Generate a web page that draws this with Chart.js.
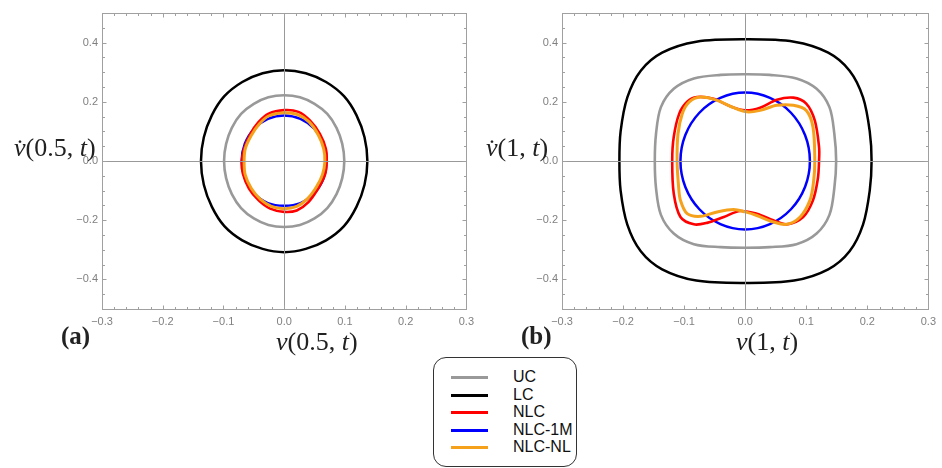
<!DOCTYPE html>
<html lang="en">
<head>
  <meta charset="UTF-8">
  <title>Phase portraits</title>
  <style>
    * { box-sizing: border-box; margin: 0; padding: 0; }
    body { background: #fff; width: 942px; height: 468px; overflow: hidden; }
    #wrap { position: relative; width: 942px; height: 468px; }
    canvas { position: absolute; top: 0; }
    #chartA { left: 0; }
    #chartB { left: 460px; }
    .lbl {
      position: absolute;
      font-family: "Liberation Serif", "DejaVu Serif", serif;
      font-size: 26px;
      color: #222;
      white-space: nowrap;
      line-height: 1;
    }
    .lbl i { font-style: italic; }
    .tag { font-weight: bold; font-size: 25px; }
    #legend {
      position: absolute;
      left: 433px; top: 357px;
      width: 144px; height: 110px;
      border: 1px solid #333;
      border-radius: 13px;
      font-family: "Liberation Sans", Arial, sans-serif;
      font-size: 16px;
      color: #111;
    }
    #legend .row { position: absolute; left: 0; height: 18px; line-height: 18px; }
    #legend .sw { position: absolute; left: 17px; top: 8px; width: 37px; height: 3px; }
    #legend .tx { position: absolute; left: 79px; top: 0; }
  </style>
</head>
<body>
<div id="wrap">
  <canvas id="chartA" width="480" height="340"></canvas>
  <canvas id="chartB" width="482" height="340"></canvas>

  <div class="lbl" style="left:14px; top:135px;"><i>v&#x307;</i>(0.5, <i>t</i>)</div>
  <div class="lbl" style="left:276px; top:329px;"><i>v</i>(0.5, <i>t</i>)</div>
  <div class="lbl tag" style="left:61px; top:323px;">(a)</div>

  <div class="lbl" style="left:486px; top:135px;"><i>v&#x307;</i>(1, <i>t</i>)</div>
  <div class="lbl" style="left:736px; top:329px;"><i>v</i>(1, <i>t</i>)</div>
  <div class="lbl tag" style="left:521px; top:323px;">(b)</div>

  <div id="legend"></div>
</div>

<script src="https://cdn.jsdelivr.net/npm/chart.js"></script>
<script>
  // axis ticks
  const xTicks = [-0.3, -0.2, -0.1, 0, 0.1, 0.2, 0.3];
  const yTicks = [-0.4, -0.2, 0, 0.2, 0.4];

  // series names / colours
  const names  = ['UC', 'LC', 'NLC', 'NLC-1M', 'NLC-NL'];
  const colors = ['#999999', '#000000', '#ff0000', '#0000ff', '#f5a11c'];

  // (a) v(0.5,t) vs its derivative
  const ucA = [[0.099,0],[0.0956,0.058],[0.0862,0.112],[0.071,0.159],[0.050,0.193],[0.026,0.215],[0,0.222],
               [-0.026,0.215],[-0.050,0.193],[-0.071,0.159],[-0.0862,0.112],[-0.0956,0.058],[-0.099,0],
               [-0.0956,-0.058],[-0.0862,-0.112],[-0.071,-0.159],[-0.050,-0.194],[-0.026,-0.216],[0,-0.223],
               [0.026,-0.216],[0.050,-0.194],[0.071,-0.159],[0.0862,-0.112],[0.0956,-0.058]];
  const lcA = [[0.137,0],[0.1323,0.080],[0.119,0.155],[0.0985,0.219],[0.069,0.267],[0.0355,0.2966],[0,0.307],
               [-0.0355,0.2966],[-0.069,0.267],[-0.0985,0.219],[-0.119,0.155],[-0.1323,0.080],[-0.137,0],
               [-0.1323,-0.080],[-0.119,-0.155],[-0.0985,-0.220],[-0.069,-0.268],[-0.0355,-0.297],[0,-0.308],
               [0.0355,-0.297],[0.069,-0.268],[0.0985,-0.220],[0.119,-0.155],[0.1323,-0.080]];
  const nlcA = [[0.070,-0.003],[0.0685,0.042],[0.0588,0.092],[0.0424,0.137],[0.0234,0.166],[0,0.172],[-0.0256,0.160],[-0.042,0.132],
                [-0.0555,0.092],[-0.066,0.042],[-0.070,-0.003],[-0.068,-0.043],[-0.058,-0.093],[-0.042,-0.133],[-0.023,-0.161],
                [0,-0.172],[0.0207,-0.167],[0.040,-0.139],[0.056,-0.093],[0.067,-0.048]];
  const nlc1mA = [[0.070,0],[0.0647,0.059],[0.0495,0.109],[0.0268,0.142],[0,0.154],[-0.0268,0.142],[-0.0495,0.109],[-0.0647,0.059],
                  [-0.070,0],[-0.0647,-0.059],[-0.0495,-0.109],[-0.0268,-0.142],[0,-0.151],[0.0268,-0.142],[0.0495,-0.109],[0.0647,-0.059]];
  const nlcnlA = [[0.067,-0.003],[0.065,0.042],[0.056,0.089],[0.041,0.132],[0.022,0.157],[0,0.163],[-0.0256,0.152],[-0.041,0.125],
                  [-0.054,0.087],[-0.064,0.042],[-0.066,-0.003],[-0.064,-0.048],[-0.054,-0.093],[-0.039,-0.130],[-0.021,-0.153],
                  [0,-0.161],[0.0207,-0.153],[0.0386,-0.127],[0.053,-0.088],[0.063,-0.046]];

  // (b) v(1,t) vs its derivative
  const ucB = [[0.149,0],[0.146,0.092],[0.138,0.182],[0.117,0.244],[0.084,0.279],[0.040,0.291],[0,0.293],[-0.040,0.291],[-0.084,0.279],
               [-0.117,0.244],[-0.138,0.182],[-0.146,0.092],[-0.148,0],[-0.146,-0.092],[-0.138,-0.182],[-0.117,-0.245],[-0.084,-0.281],
               [-0.040,-0.291],[0,-0.293],[0.040,-0.291],[0.084,-0.281],[0.117,-0.245],[0.138,-0.182],[0.146,-0.092]];
  const lcB = [[0.207,0],[0.204,0.100],[0.193,0.215],[0.171,0.305],[0.136,0.366],[0.080,0.403],[0,0.411],
               [-0.080,0.403],[-0.136,0.366],[-0.171,0.305],[-0.193,0.215],[-0.204,0.100],[-0.206,0],
               [-0.204,-0.100],[-0.193,-0.215],[-0.171,-0.305],[-0.136,-0.366],[-0.080,-0.404],[0,-0.412],
               [0.080,-0.404],[0.136,-0.366],[0.171,-0.305],[0.193,-0.215],[0.204,-0.100]];
  const nlcB = [[0.121,0.002],[0.121,0.047],[0.114,0.137],[0.100,0.194],[0.079,0.214],[0.052,0.207],[0.0245,0.180],[0,0.171],
                [-0.0245,0.185],[-0.052,0.210],[-0.079,0.216],[-0.095,0.200],[-0.108,0.160],[-0.117,0.081],
                [-0.1195,0.002],[-0.117,-0.110],[-0.106,-0.189],[-0.084,-0.214],[-0.0625,-0.209],[-0.035,-0.189],
                [-0.008,-0.169],[0.019,-0.178],[0.046,-0.200],[0.068,-0.214],[0.095,-0.189],[0.111,-0.133],[0.119,-0.060]];
  const nlc1mB = [[0.106,0],[0.098,0.0877],[0.075,0.163],[0.0406,0.213],[0,0.231],[-0.0406,0.213],[-0.075,0.163],[-0.098,0.0877],
                  [-0.106,0],[-0.098,-0.0877],[-0.075,-0.163],[-0.0406,-0.213],[0,-0.231],[0.0406,-0.213],[0.075,-0.163],[0.098,-0.0877]];
  const nlcnlB = [[0.114,0.002],[0.111,0.115],[0.100,0.171],[0.079,0.188],[0.052,0.188],[0.0245,0.171],[0.003,0.166],
                  [-0.019,0.180],[-0.046,0.205],[-0.073,0.216],[-0.092,0.199],[-0.103,0.160],[-0.110,0.092],[-0.1115,0.002],
                  [-0.109,-0.088],[-0.106,-0.133],[-0.095,-0.178],[-0.073,-0.187],[-0.046,-0.172],[-0.019,-0.164],[0,-0.172],
                  [0.019,-0.184],[0.046,-0.206],[0.068,-0.214],[0.090,-0.189],[0.106,-0.133],[0.112,-0.070]];

  // closed loop: wrap one point on each side and hide those two segments so the spline closes smoothly
  function loop(pts, color, width) {
    const n = pts.length;
    const seq = [pts[n - 1], ...pts, pts[0], pts[1]];
    const last = seq.length - 1;
    return {
      data: seq.map(([x, y]) => ({ x, y })),
      showLine: true,
      tension: 0.33,
      pointRadius: 0,
      borderWidth: width,
      borderColor: color,
      segment: {
        borderColor: c => (c.p0DataIndex === 0 || c.p1DataIndex === last) ? 'rgba(0,0,0,0)' : color
      }
    };
  }

  const fmt = v => v === 0 ? '0.0' : (v < 0 ? '\u2212' : '') + Math.abs(v).toFixed(1);

  // Mathematica-like frame: inward ticks on all sides plus zero axes
  const framePlugin = {
    id: 'frame',
    afterDatasetsDraw(chart) {
      const { ctx, chartArea: a, scales: { x, y } } = chart;
      ctx.save();
      ctx.lineWidth = 1;
      ctx.strokeStyle = '#999';
      const x0 = Math.round(x.getPixelForValue(0)) + 0.5;
      const y0 = Math.round(y.getPixelForValue(0)) + 0.5;
      ctx.beginPath();
      ctx.moveTo(x0, a.top); ctx.lineTo(x0, a.bottom);
      ctx.moveTo(a.left, y0); ctx.lineTo(a.right, y0);
      ctx.stroke();

      ctx.strokeStyle = '#a0a0a0';
      const L = Math.round(a.left) + 0.5, R = Math.round(a.right) + 0.5;
      const T = Math.round(a.top) + 0.5, B = Math.round(a.bottom) + 0.5;
      ctx.strokeRect(L, T, R - L, B - T);

      ctx.beginPath();
      for (let i = -15; i <= 15; i++) {
        const px = Math.round(x.getPixelForValue(i * 0.02)) + 0.5;
        const len = i % 5 === 0 ? 4 : 2.5;
        ctx.moveTo(px, B); ctx.lineTo(px, B - len);
        ctx.moveTo(px, T); ctx.lineTo(px, T + len);
      }
      for (let i = -10; i <= 10; i++) {
        const py = Math.round(y.getPixelForValue(i * 0.05)) + 0.5;
        const len = i % 4 === 0 ? 4 : 2.5;
        ctx.moveTo(L, py); ctx.lineTo(L + len, py);
        ctx.moveTo(R, py); ctx.lineTo(R - len, py);
      }
      ctx.stroke();
      ctx.restore();
    }
  };

  function makeChart(id, sets, rightPad) {
    const [uc, lc, nlc, nlc1m, nlcnl] = sets;
    return new Chart(document.getElementById(id), {
      type: 'scatter',
      data: {
        // first dataset is drawn on top
        datasets: [
          loop(nlcnl, colors[4], 3),
          loop(nlc, colors[2], 2.6),
          loop(nlc1m, colors[3], 2.5),
          loop(lc, colors[1], 2.5),
          loop(uc, colors[0], 2.6)
        ]
      },
      options: {
        responsive: false,
        animation: false,
        layout: { padding: { top: 13, right: rightPad, left: 0, bottom: 0 } },
        plugins: { legend: { display: false }, tooltip: { enabled: false } },
        scales: {
          x: {
            type: 'linear', min: -0.3, max: 0.3,
            afterBuildTicks: s => { s.ticks = xTicks.map(v => ({ value: v })); },
            afterFit: s => { s.height = 31; },
            grid: { display: false, drawTicks: false },
            border: { display: false },
            ticks: { padding: 6, color: '#808080', font: { family: 'Liberation Sans', size: 11 },
                     maxRotation: 0, autoSkip: false, callback: fmt }
          },
          y: {
            type: 'linear', min: -0.5, max: 0.5,
            afterBuildTicks: s => { s.ticks = yTicks.map(v => ({ value: v })); },
            afterFit: s => { s.width = 102; },
            grid: { display: false, drawTicks: false },
            border: { display: false },
            ticks: { padding: 4, color: '#808080', font: { family: 'Liberation Sans', size: 11 },
                     autoSkip: false, callback: fmt }
          }
        }
      },
      plugins: [framePlugin]
    });
  }

  makeChart('chartA', [ucA, lcA, nlcA, nlc1mA, nlcnlA], 11);
  makeChart('chartB', [ucB, lcB, nlcB, nlc1mB, nlcnlB], 13);

  // legend box
  const legend = document.getElementById('legend');
  names.forEach((name, i) => {
    const row = document.createElement('div');
    row.className = 'row';
    row.style.top = (10 + i * 17.5) + 'px';
    row.style.width = '100%';
    row.innerHTML = `<span class="sw" style="background:${colors[i]}"></span><span class="tx">${name}</span>`;
    legend.appendChild(row);
  });
</script>
</body>
</html>
